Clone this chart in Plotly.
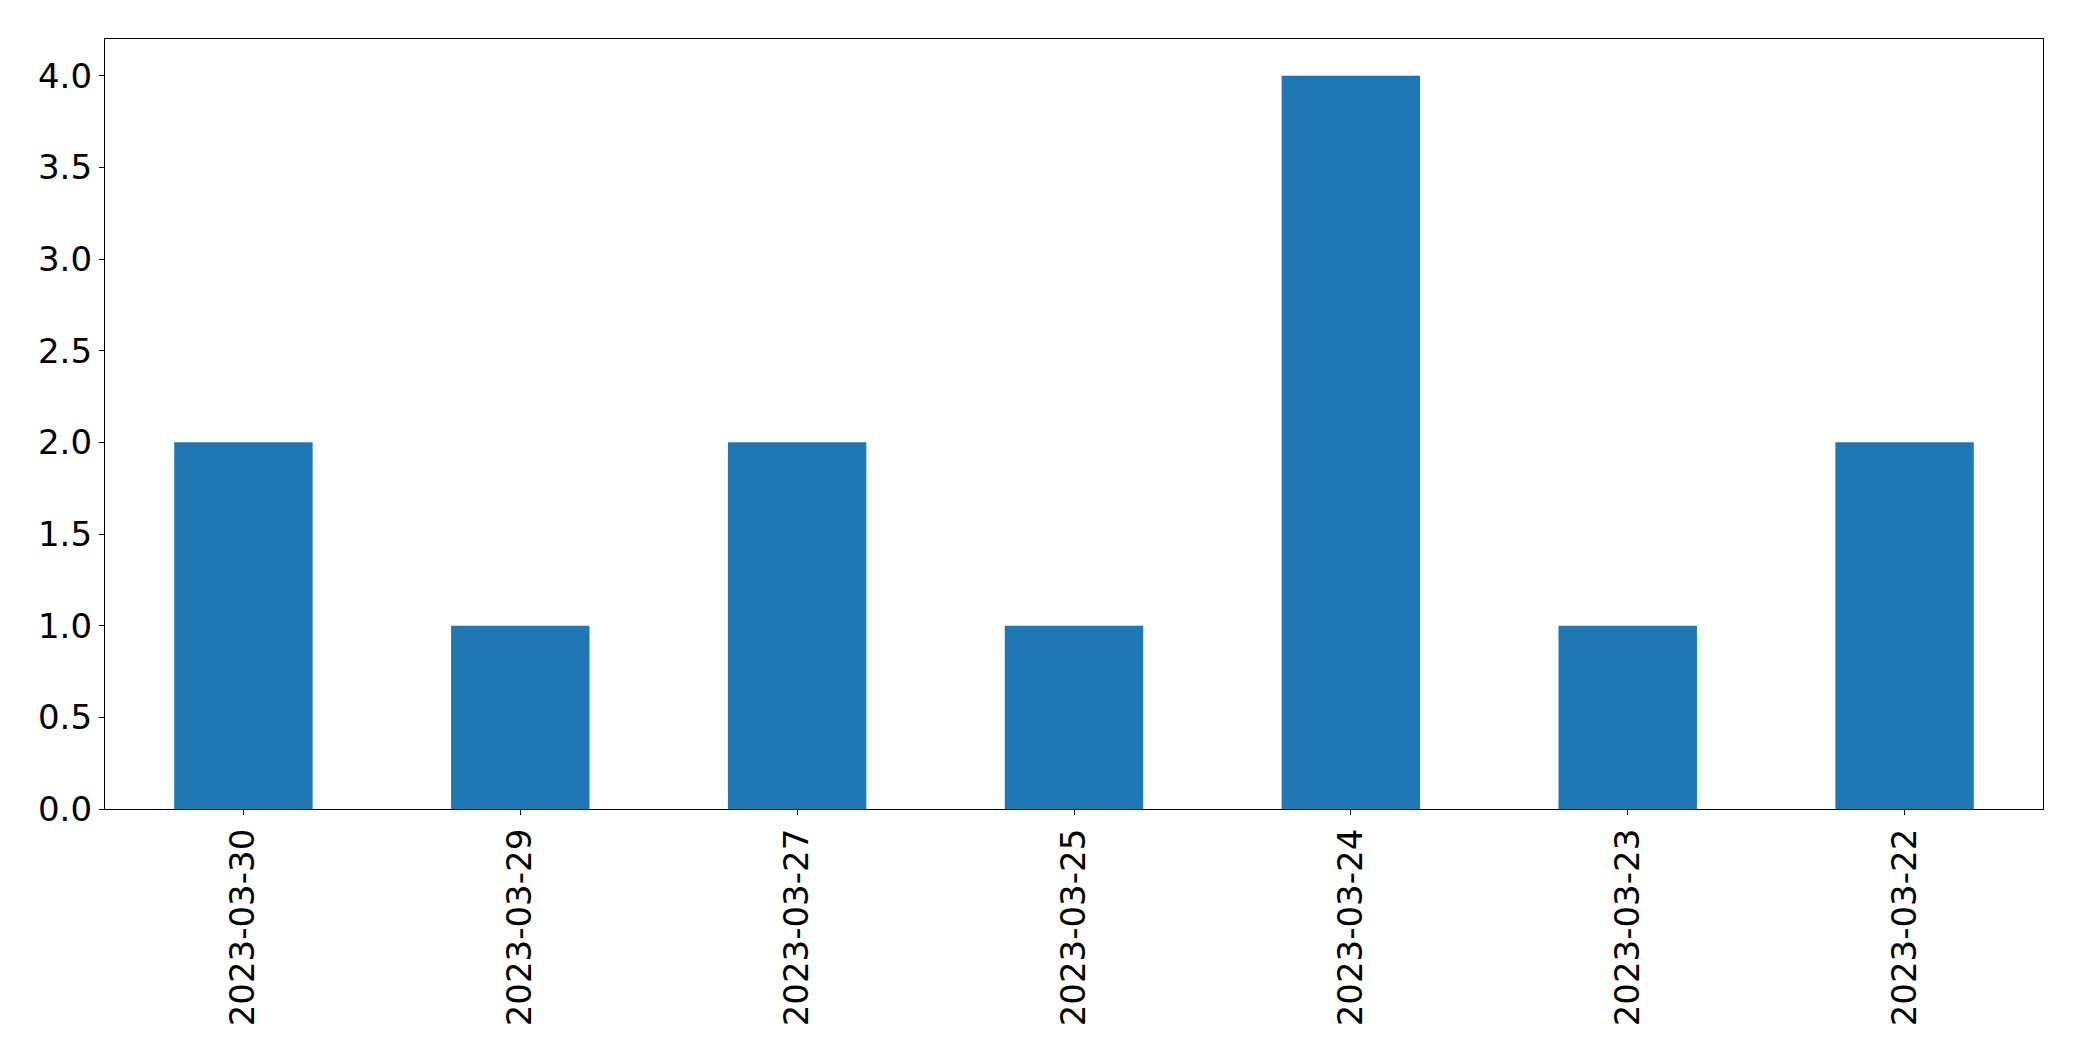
import plotly.graph_objects as go

dates = ["2023-03-30", "2023-03-29", "2023-03-27", "2023-03-25", "2023-03-24", "2023-03-23", "2023-03-22"]
counts = [2, 1, 2, 1, 4, 1, 2]
y_ticks = [0.0, 0.5, 1.0, 1.5, 2.0, 2.5, 3.0, 3.5, 4.0]

xpos = list(range(len(dates)))

fig = go.Figure(go.Bar(x=xpos, y=counts, width=0.5, marker=dict(color="#1f77b4", line=dict(width=0))))

font = dict(family="DejaVu Sans", size=34, color="black")
# page body has an 8px default margin; figure is sized so the plot area lands
# where the reference's axes are
fig.update_layout(
    width=2074, height=1045,
    margin=dict(l=97, r=39, t=31, b=244),
    plot_bgcolor="white", paper_bgcolor="white",
    showlegend=False,
    font=font,
)
fig.update_xaxes(
    range=[-0.5, 6.5], tickmode="array", tickvals=xpos, ticktext=dates,
    tickangle=-90, ticks="outside", ticklen=5, tickwidth=1.3, tickcolor="black",
    showline=True, linecolor="black", linewidth=1.3, mirror=True,
    showgrid=False, zeroline=False, tickfont=font, automargin=False,
)
fig.update_yaxes(
    range=[0, 4.2], tickmode="array", tickvals=y_ticks, ticktext=[f"{v:.1f}" for v in y_ticks],
    ticks="outside", ticklen=5, tickwidth=1.3, tickcolor="black",
    showline=True, linecolor="black", linewidth=1.3, mirror=True,
    showgrid=False, zeroline=False, tickfont=font, automargin=False,
)
fig.write_html("out.html")
